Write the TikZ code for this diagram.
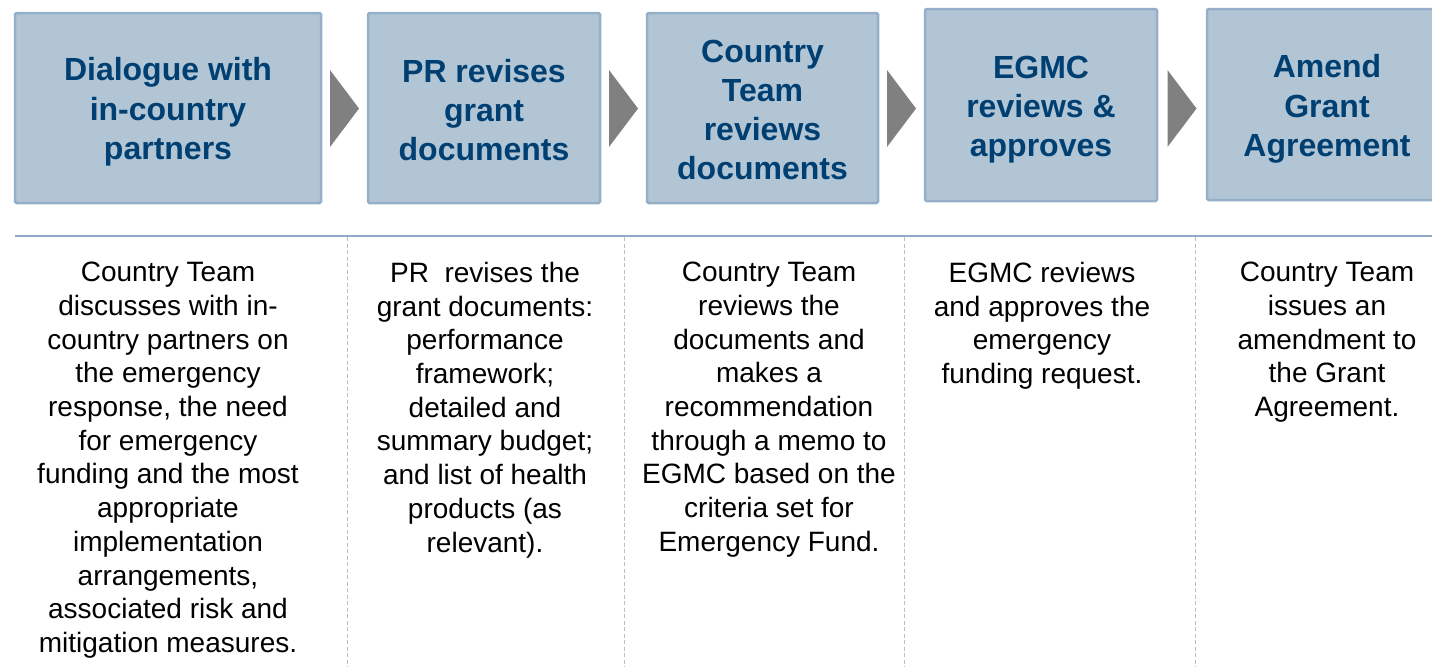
\documentclass[tikz,border=0pt]{standalone}
\usepackage{fontspec}
\setmainfont{Liberation Sans}
\usetikzlibrary{calc}

\definecolor{boxfill}{RGB}{177,197,213}
\definecolor{boxedge}{RGB}{149,175,200}
\definecolor{titleblue}{RGB}{0,63,114}
\definecolor{chevgray}{RGB}{128,128,128}
\definecolor{ruleblue}{RGB}{143,170,196}
\definecolor{dashgray}{RGB}{190,190,190}

\tikzset{
  stepbox/.style={draw=boxedge, line width=2.5pt, fill=boxfill, rounded corners=1.5pt,
    minimum height=190pt, inner sep=0pt},
  steptitle/.style={inner sep=0pt, align=center, text=titleblue,
    font=\fontsize{32}{39.3}\selectfont\bfseries},
  desc/.style={anchor=north, inner sep=0pt, align=center, text=black,
    font=\fontsize{28}{33.7}\selectfont},
  chev/.style={fill=chevgray},
  sepline/.style={draw=ruleblue, line width=2pt},
  colsep/.style={draw=dashgray, line width=1pt, dash pattern=on 4pt off 2.5pt},
}

\begin{document}
\begin{tikzpicture}[x=1pt,y=-1pt]
  \useasboundingbox (0,0) rectangle (1432,667);
  \clip (0,0) rectangle (1432,667);

  % process steps
  \node[stepbox, minimum width=306pt] (b1) at (168,108) {};
  \node[stepbox, minimum width=232pt] (b2) at (484,108) {};
  \node[stepbox, minimum width=231pt] (b3) at (762.5,108) {};
  \node[stepbox, minimum width=232pt, minimum height=192pt] (b4) at (1041,105) {};
  \node[stepbox, minimum width=240pt, minimum height=191pt] (b5) at (1327,104.5) {};

  % step titles, set a little below each box centre
  \node[steptitle] (t1) at ($(b1.center)+(0,4)$) {Dialogue with\\in-country\\partners};
  \node[steptitle] (t2) at ($(b2.center)+(0,2)$) {PR revises\\grant\\documents};
  \node[steptitle] (t3) at ($(b3.center)+(0,2)$) {Country\\Team\\reviews\\documents};
  \node[steptitle] (t4) at ($(b4.center)+(0,4.5)$) {EGMC\\reviews \&\\approves};
  \node[steptitle] (t5) at ($(b5.center)+(0,4.5)$) {Amend\\Grant\\Agreement};

  % chevrons between the steps
  \coordinate (arow) at (0,108.5);
  \path ($(b1.east)!0.5!(b2.west)$) coordinate (g1);
  \path ($(b2.east)!0.5!(b3.west)$) coordinate (g2);
  \path ($(b3.east)!0.5!(b4.west)$) coordinate (g3);
  \path ($(b4.east)!0.5!(b5.west)$) coordinate (g4);
  \foreach \g in {g1,g2,g3,g4}{
    \fill[chev] (\g |- arow) ++(-14.5,-38.5) -- ++(29,38.5) -- ++(-29,38.5) -- cycle;
  }

  % rule under the steps and column separators
  \coordinate (rl) at (15,236);
  \coordinate (rr) at (1432,236);
  \draw[sepline] (rl) -- (rr);
  \foreach \x/\n in {347/s1,624/s2,904/s3,1195/s4}{
    \coordinate (\n t) at (\x,237);
    \coordinate (\n b) at (\x,667);
    \draw[colsep] (\n t) -- (\n b);
  }

  % descriptions
  \node[desc] (d1) at (168,262) {Country Team\\discusses with in-\\country partners on\\the emergency\\response, the need\\for emergency\\funding and the most\\appropriate\\implementation\\arrangements,\\associated risk and\\mitigation measures.};
  \node[desc] (d2) at (485,262) {PR~ revises the\\grant documents:\\performance\\framework;\\detailed and\\summary budget;\\and list of health\\products (as\\relevant).};
  \node[desc] (d3) at (769,262) {Country Team\\reviews the\\documents and\\makes a\\recommendation\\through a memo to\\EGMC based on the\\criteria set for\\Emergency Fund.};
  \node[desc] (d4) at (1042,262) {EGMC reviews\\and approves the\\emergency\\funding request.};
  \node[desc] (d5) at (1327,262) {Country Team\\issues an\\amendment to\\the Grant\\Agreement.};
\end{tikzpicture}
\end{document}
